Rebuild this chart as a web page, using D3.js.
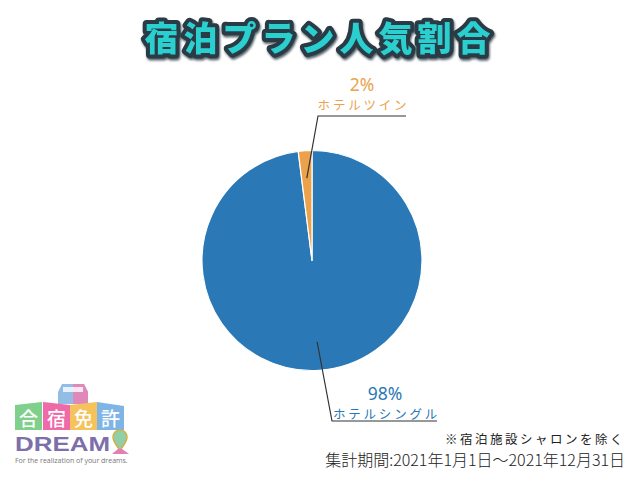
<!DOCTYPE html>
<html><head><meta charset="utf-8">
<script src="https://cdn.jsdelivr.net/npm/d3@7/dist/d3.min.js"></script>
<style>
html,body{margin:0;padding:0;background:#fff;}
svg{display:block;}
</style></head>
<body>
<script>
const title = "宿泊プラン人気割合";
const categories = ["ホテルシングル", "ホテルツイン"];
const values = [98, 2];
const percentLabels = ["98%", "2%"];
const colors = ["#2a78b5", "#eba24b"];
const noteText = "※宿泊施設シャロンを除く";
const periodText = "集計期間:2021年1月1日～2021年12月31日";

const W = 640, H = 480;
const svg = d3.select("body").append("svg").attr("width", W).attr("height", H);
svg.append("rect").attr("width", W).attr("height", H).attr("fill", "#fff");

const defs = svg.append("defs");
const f = defs.append("filter").attr("id", "sh").attr("x", "-10%").attr("y", "-30%").attr("width", "120%").attr("height", "160%");
f.append("feDropShadow").attr("dx", 1).attr("dy", 2).attr("stdDeviation", 0.8).attr("flood-color", "#2a3b45").attr("flood-opacity", 0.8);

// Title
svg.append("text").attr("x", 320).attr("y", 51).attr("text-anchor", "middle")
  .attr("font-family", "'Noto Sans CJK JP'").attr("font-weight", 900).attr("font-size", 34)
  .attr("letter-spacing", 5)
  .attr("fill", "#2ccfcf").attr("stroke", "#2a3b45").attr("stroke-width", 8).attr("stroke-linejoin", "round")
  .attr("paint-order", "stroke").attr("filter", "url(#sh)")
  .text(title);

// Pie
const cx = 312, cy = 260.5, R = 110;
const pie = d3.pie().sort(null).value(d => d)(values);
const arc = d3.arc().innerRadius(0).outerRadius(R);
const pg = svg.append("g").attr("transform", `translate(${cx},${cy})`);
pg.selectAll("path").data(pie).join("path")
  .attr("d", arc).attr("fill", (d, i) => colors[i])
  .attr("stroke", "#fff").attr("stroke-width", 1.2).attr("stroke-linejoin", "round");

// Labels with leader lines
const labelSpecs = [
  { inner: 0.74, elbow: [332, 421], end: 437, tx: 385, py: 400, ky: 419 },
  { inner: 0.75, elbow: [318, 116], end: 406, tx: 362, py: 91, ky: 109.5 }
];
pie.forEach((d, i) => {
  const s = labelSpecs[i];
  const a = (d.startAngle + d.endAngle) / 2;
  const p0 = [cx + Math.sin(a) * R * s.inner, cy - Math.cos(a) * R * s.inner];
  svg.append("path")
    .attr("d", d3.line()([p0, s.elbow, [s.end, s.elbow[1]]]))
    .attr("fill", "none").attr("stroke", "#333").attr("stroke-width", 1.2);
  svg.append("text").attr("x", s.tx).attr("y", s.py).attr("text-anchor", "middle")
    .attr("font-family", "'Noto Sans'").attr("font-size", 17.5).attr("fill", colors[i])
    .text(percentLabels[i]);
  svg.append("text").attr("x", s.tx + 1.5).attr("y", s.ky).attr("text-anchor", "middle")
    .attr("font-family", "'Noto Sans CJK JP'").attr("font-size", 12.5).attr("letter-spacing", 2.8)
    .attr("fill", colors[i])
    .text(categories[i]);
});

// Footer notes
svg.append("text").attr("x", 625).attr("y", 443.5).attr("text-anchor", "end")
  .attr("font-family", "'Noto Sans CJK JP'").attr("font-size", 12.5).attr("letter-spacing", 2.5)
  .attr("fill", "#222").text(noteText);
svg.append("text").attr("x", 625).attr("y", 466).attr("text-anchor", "end")
  .attr("font-family", "'Noto Sans CJK JP'").attr("font-weight", 300).attr("font-size", 16)
  .attr("fill", "#222").text(periodText);

// Logo (decorative)
const lg = svg.append("g");
lg.append("path").attr("d", "M58,392 L62,384 L84,384 L88,392 L88,404 L58,404 Z").attr("fill", "#7fb3e0").attr("opacity", 0.85);
lg.append("path").attr("d", "M73,384 L84,384 L88,392 L88,404 L73,404 Z").attr("fill", "#ef7fb4").attr("opacity", 0.85);
lg.append("rect").attr("x", 63).attr("y", 387).attr("width", 20).attr("height", 5).attr("fill", "#fff").attr("opacity", 0.8);
const blocks = [
  { x: 15, c: "#7fd08a", t: "合", top: [405, 402] },
  { x: 43, c: "#ef6aa8", t: "宿", top: [402, 405] },
  { x: 70, c: "#f6c25c", t: "免", top: [405, 402] },
  { x: 97, c: "#7fb5e6", t: "許", top: [402, 406] }
];
blocks.forEach(b => {
  lg.append("path").attr("d", `M${b.x},${b.top[0]} L${b.x + 27},${b.top[1]} L${b.x + 27},430 L${b.x},430 Z`).attr("fill", b.c);
  lg.append("text").attr("x", b.x + 13.5).attr("y", 426).attr("text-anchor", "middle")
    .attr("font-family", "'Noto Sans CJK JP'").attr("font-size", 19).attr("font-weight", 500)
    .attr("fill", "#fff").text(b.t);
});
lg.append("text").attr("x", 15).attr("y", 451).attr("font-family", "'Liberation Sans', Arial")
  .attr("font-weight", 700).attr("font-size", 21).attr("fill", "#7b70aa")
  .attr("textLength", 95).attr("lengthAdjust", "spacingAndGlyphs").text("DREAM");
lg.append("path").attr("d", "M120,450 C114,443 113,439 113,437 A7,7 0 1 1 127,437 C127,439 126,443 120,450 Z")
  .attr("fill", "#8fd0a8").attr("stroke", "#d4b040").attr("stroke-width", 1.5);
lg.append("path").attr("d", "M112,454 L118,449 L122,449 L129,454 Z").attr("fill", "#e27db5");
lg.append("text").attr("x", 15).attr("y", 463).attr("font-family", "'Open Sans'")
  .attr("font-size", 7).attr("fill", "#777").text("For the realization of your dreams.");
</script>
</body></html>
